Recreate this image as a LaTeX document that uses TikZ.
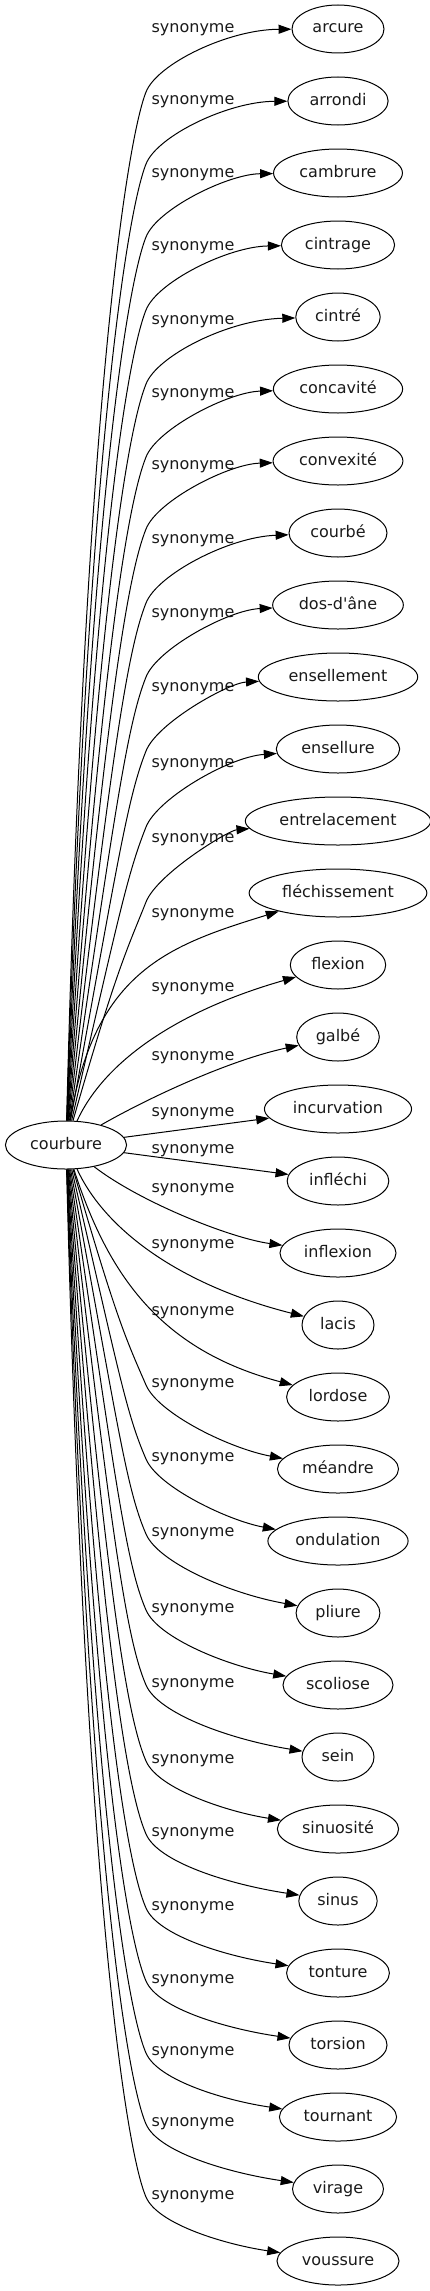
\documentclass[tikz,border=0pt]{standalone}
\usepackage{fontspec}
\newfontfamily\graphfont{DejaVu Sans}
\usepackage{xcolor}
\definecolor{lineDark}{HTML}{000000}
\definecolor{textDark}{HTML}{1A1A1A}
\usepackage{tikz}
\usetikzlibrary{shapes,arrows,positioning,calc,arrows.meta,shapes.misc}
\tikzset{%
  wordNode/.style={%
    ellipse,
    draw=lineDark,
    line width=1pt,
    text=textDark,
    inner xsep=7pt,
    inner ysep=2pt,
    minimum width=72pt,
    minimum height=48pt,
    text height=12pt,
    text depth=4pt,
    font=\graphfont\fontsize{16pt}{19pt}\selectfont
  },
  synLabel/.style={%
    inner sep=0pt,
    text=textDark,
    font=\graphfont\fontsize{16pt}{19pt}\selectfont
  },
  synLine/.style={%
    -{Triangle[length=13pt,width=9pt]},
    line width=1pt,
    color=lineDark
  }
}

\begin{document}
\begin{tikzpicture}[x=1pt,y=-1pt,node distance=23pt]
            \useasboundingbox (0,0) rectangle (430,2291);
            \node[wordNode] (courbure) at (66,1145) {courbure};

            \node[wordNode] (arcure) at (338,29) {arcure};
            \node[wordNode, below=of arcure] (arrondi) {arrondi};
            \node[wordNode, below=of arrondi] (cambrure) {cambrure};
            \node[wordNode, below=of cambrure] (cintrage) {cintrage};
            \node[wordNode, below=of cintrage] (cintre) {cintré};
            \node[wordNode, below=of cintre] (concavite) {concavité};
            \node[wordNode, below=of concavite] (convexite) {convexité};
            \node[wordNode, below=of convexite] (courbe) {courbé};
            \node[wordNode, below=of courbe] (dosdane) {dos-d'âne};
            \node[wordNode, below=of dosdane] (ensellement) {ensellement};
            \node[wordNode, below=of ensellement] (ensellure) {ensellure};
            \node[wordNode, below=of ensellure] (entrelacement) {entrelacement};
            \node[wordNode, below=of entrelacement] (flechissement) {fléchissement};
            \node[wordNode, below=of flechissement] (flexion) {flexion};
            \node[wordNode, below=of flexion] (galbe) {galbé};
            \node[wordNode, below=of galbe] (incurvation) {incurvation};
            \node[wordNode, below=of incurvation] (inflechi) {infléchi};
            \node[wordNode, below=of inflechi] (inflexion) {inflexion};
            \node[wordNode, below=of inflexion] (lacis) {lacis};
            \node[wordNode, below=of lacis] (lordose) {lordose};
            \node[wordNode, below=of lordose] (meandre) {méandre};
            \node[wordNode, below=of meandre] (ondulation) {ondulation};
            \node[wordNode, below=of ondulation] (pliure) {pliure};
            \node[wordNode, below=of pliure] (scoliose) {scoliose};
            \node[wordNode, below=of scoliose] (sein) {sein};
            \node[wordNode, below=of sein] (sinuosite) {sinuosité};
            \node[wordNode, below=of sinuosite] (sinus) {sinus};
            \node[wordNode, below=of sinus] (tonture) {tonture};
            \node[wordNode, below=of tonture] (torsion) {torsion};
            \node[wordNode, below=of torsion] (tournant) {tournant};
            \node[wordNode, below=of tournant] (virage) {virage};
            \node[wordNode, below=of virage] (voussure) {voussure};

            % edge labels
            \foreach \word/\ly in {arcure/30, arrondi/102, cambrure/175, cintrage/248,
                cintre/322, concavite/395, convexite/467, courbe/541, dosdane/615,
                ensellement/689, ensellure/765, entrelacement/840, flechissement/915,
                flexion/989, galbe/1058, incurvation/1114, inflechi/1151, inflexion/1190,
                lacis/1246, lordose/1313, meandre/1385, ondulation/1459, pliure/1534,
                scoliose/1610, sein/1685, sinuosite/1761, sinus/1834, tonture/1908,
                torsion/1981, tournant/2053, virage/2124, voussure/2197}
              \node[synLabel] (syn-\word) at (193,\ly) {synonyme};

            % edges going up
            \foreach \idx/\word/\ly in {0/arcure/30, 1/arrondi/102, 2/cambrure/175,
                3/cintrage/248, 4/cintre/322, 5/concavite/395, 6/convexite/467,
                7/courbe/541, 8/dosdane/615, 9/ensellement/689, 10/ensellure/765,
                11/entrelacement/840}
            {
              \pgfmathsetmacro\ty{29+72*\idx}
              \pgfmathsetmacro\py{\ly+62}
              \pgfmathsetmacro\dy{1122-\py}
              \pgfmathsetmacro\sl{0.633*exp(-\dy/300)}
              \pgfmathsetmacro\hd{min(50,0.35*\dy)}
              \draw[synLine] (courbure)
                .. controls ({70+\sl*0.7*\dy},{1122-0.7*\dy}) and ({146-0.37*\hd},{\py+0.93*\hd}) .. (146,\py)
                .. controls (157,{\py-28}) and (228,{(\ty+\ly)/2}) .. (\word);
            }

            % edges near the middle
            \draw[synLine] (courbure) .. controls (95,970) and (170,945) .. (flechissement);
            \draw[synLine] (courbure) .. controls (105,1060) and (180,1010) .. (flexion);
            \draw[synLine] (courbure) .. controls (150,1097) and (230,1060) .. (galbe);
            \draw[synLine] (courbure) -- (incurvation);
            \draw[synLine] (courbure) -- (inflechi);
            \draw[synLine] (courbure) .. controls (140,1202) and (230,1238) .. (inflexion);
            \draw[synLine] (courbure) .. controls (105,1230) and (180,1285) .. (lacis);
            \draw[synLine] (courbure) .. controls (108,1275) and (160,1350) .. (lordose);

            % edges going down
            \foreach \idx/\word/\ly in {20/meandre/1385,
                21/ondulation/1459, 22/pliure/1534, 23/scoliose/1610, 24/sein/1685,
                25/sinuosite/1761, 26/sinus/1834, 27/tonture/1908, 28/torsion/1981,
                29/tournant/2053, 30/virage/2124, 31/voussure/2197}
            {
              \pgfmathsetmacro\ty{29+72*\idx}
              \pgfmathsetmacro\dy{\ly-1168}
              \pgfmathsetmacro\sl{0.633*exp(-\dy/300)}
              \pgfmathsetmacro\hd{min(50,0.35*\dy)}
              \draw[synLine] (courbure)
                .. controls ({70+\sl*0.7*\dy},{1168+0.7*\dy}) and ({146-0.4*\hd},{\ly-0.92*\hd}) .. (146,\ly)
                .. controls (158,{\ly+28}) and (228,{\ty-0.25*(\ty-\ly)}) .. (\word);
            }
        \end{tikzpicture}
\end{document}
